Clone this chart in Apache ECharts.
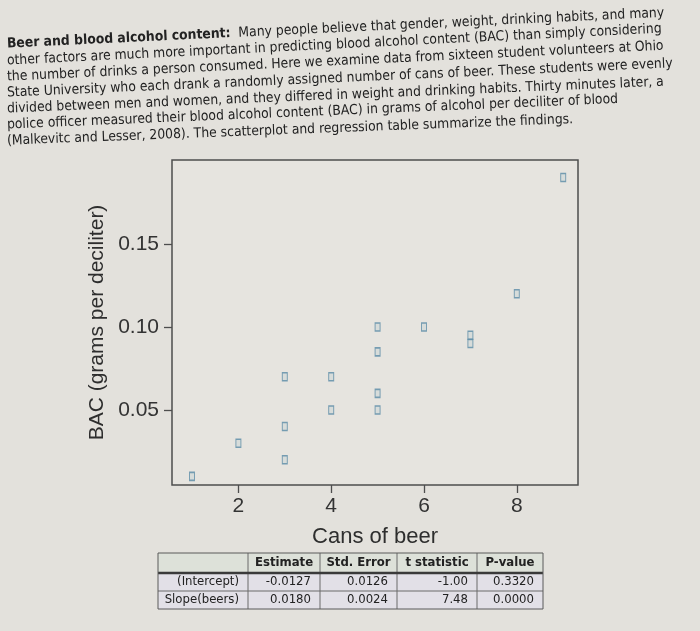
<!DOCTYPE html>
<html>
<head>
<meta charset="utf-8">
<script src="https://cdn.jsdelivr.net/npm/echarts@6/dist/echarts.min.js"></script>
<style>
html,body{margin:0;padding:0;background:#e3e1dc;}
#chart{width:700px;height:631px;}
</style>
</head>
<body>
<div id="chart"></div>
<script>
// ---- data ----
const beers = [5, 2, 9, 8, 3, 7, 3, 5, 3, 5, 4, 6, 5, 7, 1, 4];
const bac   = [0.10, 0.03, 0.19, 0.12, 0.04, 0.095, 0.07, 0.06, 0.02, 0.05, 0.07, 0.10, 0.085, 0.09, 0.01, 0.05];
const xTicks = [2, 4, 6, 8];
const yTicks = [0.05, 0.10, 0.15];
const xTitle = 'Cans of beer';
const yTitle = 'BAC (grams per deciliter)';

const paragraphLines = [
  '{b|Beer and blood alcohol content:}  Many people believe that gender, weight, drinking habits, and many',
  'other factors are much more important in predicting blood alcohol content (BAC) than simply considering',
  'the number of drinks a person consumed. Here we examine data from sixteen student volunteers at Ohio',
  'State University who each drank a randomly assigned number of cans of beer. These students were evenly',
  'divided between men and women, and they differed in weight and drinking habits. Thirty minutes later, a',
  'police officer measured their blood alcohol content (BAC) in grams of alcohol per deciliter of blood',
  '(Malkevitc and Lesser, 2008). The scatterplot and regression table summarize the findings.'
];

const tableHeader = ['', 'Estimate', 'Std. Error', 't statistic', 'P-value'];
const rowLabels  = ['(Intercept)', 'Slope(beers)'];
const estimates  = ['-0.0127', '0.0180'];
const stdErrors  = ['0.0126', '0.0024'];
const tStats     = ['-1.00', '7.48'];
const pValues    = ['0.3320', '0.0000'];

// ---- layout (not data) ----
const paraFamily = "'DejaVu Sans Condensed', 'DejaVu Sans', 'Open Sans', sans-serif";
const lineLeft = 7;
const lineY = [44, 61, 77, 93, 109, 125, 141];
const lineRot = [0.047, 0.049, 0.047, 0.044, 0.041, 0.042, 0.038];
const colEdges = [158, 248, 320, 397, 477, 543];
const rowEdges = [553, 573, 591, 609];

function measure(text, font) {
  const c = document.createElement('canvas').getContext('2d');
  c.font = font;
  return c.measureText(text).width;
}
const refW = measure(paragraphLines[1], '100px ' + paraFamily);
const paraSize = Math.round(655 / refW * 100 * 10) / 10;

const chart = echarts.init(document.getElementById('chart'));
const graphics = [];

paragraphLines.forEach((t, i) => {
  graphics.push({
    type: 'text', x: lineLeft, y: lineY[i], rotation: lineRot[i], silent: true,
    style: {
      text: t, x: 0, y: 0, align: 'left', verticalAlign: 'middle',
      fontFamily: paraFamily, fontSize: paraSize, fill: '#222',
      rich: { b: { fontFamily: paraFamily, fontSize: paraSize, fontWeight: 'bold', fill: '#222' } }
    }
  });
});

// table
const tX0 = colEdges[0], tX1 = colEdges[colEdges.length - 1];
graphics.push({ type: 'rect', silent: true, shape: { x: tX0, y: rowEdges[0], width: tX1 - tX0, height: rowEdges[1] - rowEdges[0] }, style: { fill: '#dde1d9' } });
graphics.push({ type: 'rect', silent: true, shape: { x: tX0, y: rowEdges[1], width: tX1 - tX0, height: rowEdges[3] - rowEdges[1] }, style: { fill: '#e2e0e7' } });
for (let i = 1; i < colEdges.length - 1; i++) {
  graphics.push({ type: 'line', silent: true, shape: { x1: colEdges[i], y1: rowEdges[0], x2: colEdges[i], y2: rowEdges[3] }, style: { stroke: '#6a6a6a', lineWidth: 1 } });
}
graphics.push({ type: 'line', silent: true, shape: { x1: tX0, y1: rowEdges[1], x2: tX1, y2: rowEdges[1] }, style: { stroke: '#3a3a3a', lineWidth: 2.5 } });
graphics.push({ type: 'line', silent: true, shape: { x1: tX0, y1: rowEdges[2], x2: tX1, y2: rowEdges[2] }, style: { stroke: '#6a6a6a', lineWidth: 1 } });
graphics.push({ type: 'rect', silent: true, shape: { x: tX0, y: rowEdges[0], width: tX1 - tX0, height: rowEdges[3] - rowEdges[0] }, style: { fill: 'none', stroke: '#5a5a5a', lineWidth: 1 } });

const tableFont = 13;
tableHeader.forEach((h, i) => {
  if (!h) return;
  graphics.push({ type: 'text', silent: true, style: {
    text: h, x: (colEdges[i] + colEdges[i + 1]) / 2, y: (rowEdges[0] + rowEdges[1]) / 2,
    align: 'center', verticalAlign: 'middle', fontFamily: paraFamily, fontSize: tableFont, fontWeight: 'bold', fill: '#222' } });
});
const cols = [rowLabels, estimates, stdErrors, tStats, pValues];
for (let r = 0; r < 2; r++) {
  cols.forEach((col, c) => {
    graphics.push({ type: 'text', silent: true, style: {
      text: col[r], x: colEdges[c + 1] - 9, y: (rowEdges[r + 1] + rowEdges[r + 2]) / 2,
      align: 'right', verticalAlign: 'middle', fontFamily: paraFamily, fontSize: tableFont, fill: '#222' } });
  });
}

const axisFont = "'Liberation Sans', Arial, Helvetica, sans-serif";

chart.setOption({
  animation: false,
  backgroundColor: '#e3e1dc',
  grid: { left: 172, top: 160, right: 122, bottom: 146, show: true, borderColor: '#4e4e4e', borderWidth: 1.5, backgroundColor: '#e6e4df' },
  graphic: graphics,
  xAxis: {
    type: 'value', min: 0.569, max: 9.319,
    name: xTitle, nameLocation: 'middle', nameGap: 41,
    nameTextStyle: { fontFamily: axisFont, fontSize: 22, color: '#2e2e2e' },
    axisLine: { show: false },
    splitLine: { show: false },
    axisTick: { show: true, inside: false, length: 8, customValues: xTicks, lineStyle: { color: '#4e4e4e', width: 1.3 } },
    axisLabel: { customValues: xTicks, margin: 11, fontFamily: axisFont, fontSize: 21, color: '#333' }
  },
  yAxis: {
    type: 'value', min: 0.0048, max: 0.2006,
    name: yTitle, nameLocation: 'middle', nameGap: 63, nameRotate: 90,
    nameTextStyle: { fontFamily: axisFont, fontSize: 21, color: '#2e2e2e' },
    axisLine: { show: false },
    splitLine: { show: false },
    axisTick: { show: true, inside: false, length: 8, customValues: yTicks, lineStyle: { color: '#4e4e4e', width: 1.3 } },
    axisLabel: { customValues: yTicks, margin: 13, fontFamily: axisFont, fontSize: 21, color: '#333', formatter: v => v.toFixed(2) }
  },
  series: [{
    type: 'scatter',
    data: beers.map((b, i) => [b, bac[i]]),
    symbol: 'rect', symbolSize: [5, 8],
    itemStyle: { color: '#d3d9d8', borderColor: '#5a8ba6', borderWidth: 1.2 },
    emphasis: { disabled: true }
  }]
});
</script>
</body>
</html>
